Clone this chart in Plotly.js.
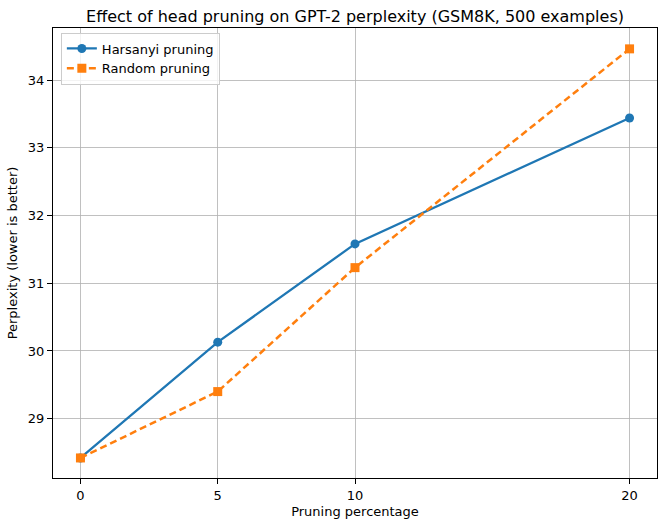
<!DOCTYPE html>
<html>
<head>
<meta charset="utf-8">
<script src="https://cdn.plot.ly/plotly-3.0.1.min.js"></script>
<style>
  html, body { margin: 0; padding: 0; background: #fff; }
  #chart { width: 664px; height: 526px; }
</style>
</head>
<body>
<div id="chart"></div>
<script>
// Pruning levels (% of heads removed) and resulting perplexity
const pruningPct = [0, 5, 10, 20];
const harsanyiPpl = [28.42, 30.13, 31.58, 33.44];
const randomPpl = [28.42, 29.40, 31.23, 34.46];
const xTickVals = [0, 5, 10, 20];
const yTickVals = [29, 30, 31, 32, 33, 34];

const FONT = 'DejaVu Sans, sans-serif';

const traces = [
  {
    x: pruningPct, y: harsanyiPpl,
    name: 'Harsanyi pruning',
    mode: 'lines+markers',
    line: { color: '#1f77b4', width: 2.3 },
    marker: { color: '#1f77b4', symbol: 'circle', size: 9 }
  },
  {
    x: pruningPct, y: randomPpl,
    name: 'Random pruning',
    mode: 'lines+markers',
    line: { color: '#ff7f0e', width: 2.5, dash: '7px,4px' },
    marker: { color: '#ff7f0e', symbol: 'square', size: 9 }
  }
];

const axisCommon = {
  showline: true, mirror: true, linecolor: '#000', linewidth: 1,
  ticks: 'outside', ticklen: 5, tickwidth: 1, tickcolor: '#000',
  showgrid: true, gridcolor: '#b0b0b0', gridwidth: 0.8,
  zeroline: false,
  tickfont: { family: FONT, size: 13, color: '#000' }
};

const layout = {
  width: 664, height: 526,
  margin: { l: 53, r: 7, t: 28, b: 48 },
  paper_bgcolor: '#fff', plot_bgcolor: '#fff',
  font: { family: FONT, color: '#000' },
  title: {
    text: 'Effect of head pruning on GPT-2 perplexity (GSM8K, 500 examples)',
    font: { family: FONT, size: 16, color: '#000' },
    x: 0.5, xref: 'paper', xanchor: 'center',
    y: 1, yref: 'paper', yanchor: 'bottom', pad: { b: 6 }
  },
  xaxis: Object.assign({}, axisCommon, {
    range: [-1, 21],
    tickmode: 'array', tickvals: xTickVals, ticktext: xTickVals.map(String),
    title: { text: 'Pruning percentage', font: { family: FONT, size: 13, color: '#000' }, standoff: 5 }
  }),
  yaxis: Object.assign({}, axisCommon, {
    range: [28.124, 34.768],
    tickmode: 'array', tickvals: yTickVals, ticktext: yTickVals.map(String),
    title: { text: 'Perplexity (lower is better)', font: { family: FONT, size: 13, color: '#000' }, standoff: 7 }
  }),
  showlegend: true,
  legend: {
    x: 0.013, y: 0.99, xanchor: 'left', yanchor: 'top',
    bgcolor: 'rgba(255,255,255,0.8)', bordercolor: '#cccccc', borderwidth: 1,
    font: { family: FONT, size: 13, color: '#000' },
    itemwidth: 30, tracegroupgap: 0
  }
};

Plotly.newPlot('chart', traces, layout, { displayModeBar: false, staticPlot: true });
</script>
</body>
</html>
